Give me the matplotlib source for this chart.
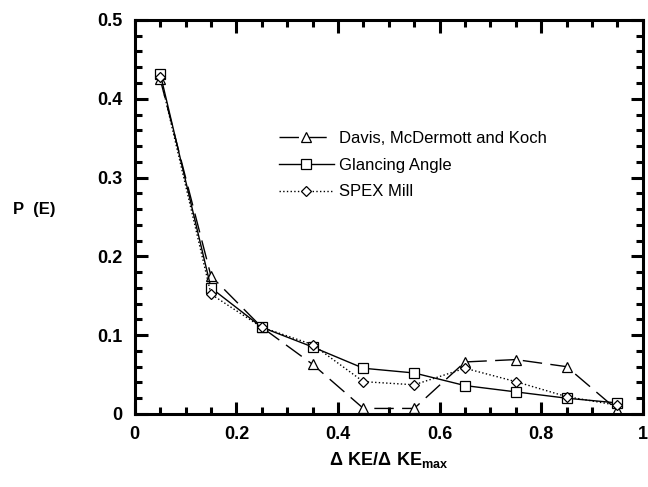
import matplotlib.pyplot as plt
from matplotlib.ticker import MultipleLocator

plt.rcParams['font.family'] = 'Liberation Sans'
plt.rcParams['mathtext.fontset'] = 'custom'
plt.rcParams['mathtext.bf'] = 'Liberation Sans:bold'
plt.rcParams['mathtext.rm'] = 'Liberation Sans'

x = [0.05, 0.15, 0.25, 0.35, 0.45, 0.55, 0.65, 0.75, 0.85, 0.95]
davis = [0.425, 0.175, 0.110, 0.063, 0.007, 0.007, 0.066, 0.069, 0.060, 0.005]
glancing = [0.432, 0.160, 0.110, 0.085, 0.058, 0.052, 0.036, 0.028, 0.020, 0.014]
spex = [0.428, 0.152, 0.110, 0.088, 0.041, 0.037, 0.058, 0.041, 0.022, 0.011]
xticks = [0, 0.2, 0.4, 0.6, 0.8, 1.0]
xticklabels = ['0', '0.2', '0.4', '0.6', '0.8', '1']
yticks = [0, 0.1, 0.2, 0.3, 0.4, 0.5]
yticklabels = ['0', '0.1', '0.2', '0.3', '0.4', '0.5']

fig = plt.figure(figsize=(6.48, 4.87), dpi=100)
ax = fig.add_axes([0.208, 0.150, 0.784, 0.809])

mk = dict(markerfacecolor='white', markeredgecolor='black', markeredgewidth=0.9, markersize=7)
ax.plot(x, davis, color='black', lw=1.0, dashes=(14, 6), marker='^',
        label='Davis, McDermott and Koch', **mk)
ax.plot(x, glancing, color='black', lw=1.0, marker='s',
        label='Glancing Angle', **mk)
ax.plot(x, spex, color='black', lw=1.0, ls=':', marker='D',
        label='SPEX Mill', markerfacecolor='white', markeredgecolor='black',
        markeredgewidth=0.9, markersize=5.5)

ax.set_xlim(0, 1)
ax.set_ylim(0, 0.5)
ax.set_xticks(xticks)
ax.set_xticklabels(xticklabels, fontweight='bold')
ax.set_yticks(yticks)
ax.set_yticklabels(yticklabels, fontweight='bold')
ax.xaxis.set_minor_locator(MultipleLocator(0.05))
ax.yaxis.set_minor_locator(MultipleLocator(0.02))
ax.tick_params(which='both', direction='in', top=True, right=True, width=2.2,
               labelsize=13, pad=9)
ax.tick_params(which='major', length=9)
ax.tick_params(which='minor', length=5)
for s in ax.spines.values():
    s.set_linewidth(2.2)

ax.set_xlabel(r'$\mathbf{\Delta\ KE/\Delta\ KE_{max}}$', fontsize=13, labelpad=5)
fig.text(0.02, 0.57, 'P  (E)', fontsize=12, fontweight='bold', va='center')

ax.legend(loc='upper left', bbox_to_anchor=(0.27, 0.735), frameon=False,
          fontsize=12, handlelength=3.3, handletextpad=0.3, labelspacing=0.7,
          borderaxespad=0)

fig.savefig('out.png', dpi=100)
